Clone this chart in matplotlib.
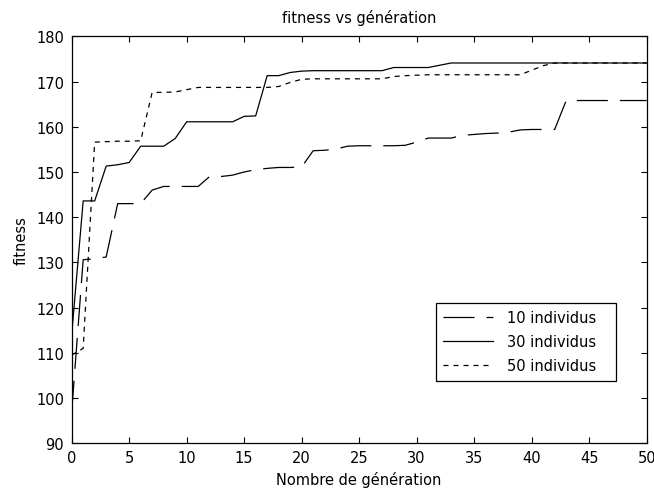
import numpy as np
import matplotlib
matplotlib.use("Agg")
import matplotlib.pyplot as plt

plt.rcParams['font.family'] = ['DejaVu Sans']
plt.rcParams['font.size'] = 10.5

generations = list(range(51))

fitness_10 = [97.0, 130.6, 130.8, 131.2, 143.0, 143.0, 143.0, 146.0, 146.8, 146.8,
              146.8, 146.8, 149.0, 149.0, 149.3, 150.0, 150.5, 150.8, 151.0, 151.0,
              151.1, 154.7, 154.8, 155.1, 155.7, 155.8, 155.8, 155.8, 155.8, 155.9,
              156.6, 157.5, 157.5, 157.5, 158.1, 158.3, 158.5, 158.6, 158.8, 159.3,
              159.4, 159.4, 159.4, 165.8, 165.8, 165.8, 165.8, 165.8, 165.8, 165.8,
              165.8]

fitness_30 = [114.0, 143.6, 143.6, 151.3, 151.6, 152.1, 155.7, 155.7, 155.7, 157.4,
              161.1, 161.1, 161.1, 161.1, 161.1, 162.3, 162.4, 171.3, 171.3, 172.0,
              172.3, 172.4, 172.4, 172.4, 172.4, 172.4, 172.4, 172.4, 173.1, 173.1,
              173.1, 173.1, 173.6, 174.1, 174.1, 174.1, 174.1, 174.1, 174.1, 174.1,
              174.1, 174.1, 174.1, 174.1, 174.1, 174.1, 174.1, 174.1, 174.1, 174.1,
              174.1]

fitness_50 = [109.5, 111.0, 156.6, 156.7, 156.8, 156.8, 156.9, 167.6, 167.6, 167.7,
              168.2, 168.7, 168.7, 168.7, 168.7, 168.7, 168.7, 168.7, 168.9, 169.8,
              170.5, 170.6, 170.6, 170.6, 170.6, 170.6, 170.6, 170.6, 171.1, 171.3,
              171.4, 171.5, 171.5, 171.5, 171.5, 171.5, 171.5, 171.5, 171.5, 171.5,
              172.5, 173.5, 174.1, 174.1, 174.1, 174.1, 174.1, 174.1, 174.1, 174.1,
              174.1]

labels = ['10 individus', '30 individus', '50 individus']
x_ticks = list(range(0, 51, 5))
y_ticks = list(range(90, 181, 10))

fig = plt.figure(figsize=(6.54, 4.89), dpi=100)
ax = fig.add_axes([0.1096, 0.0914, 0.8792, 0.8323])

ax.plot(generations, fitness_10, color='black', lw=0.9, dashes=(24.8, 9.6), label=labels[0])
ax.plot(generations, fitness_30, color='black', lw=0.9, label=labels[1])
ax.plot(generations, fitness_50, color='black', lw=0.9, dashes=(4.0, 4.0), label=labels[2])

ax.set_xlim(0, 50)
ax.set_ylim(90, 180)
ax.set_xticks(x_ticks)
ax.set_yticks(y_ticks)
ax.tick_params(direction='in', length=4.3, width=0.8, top=True, right=True,
               colors='black', labelsize=10.5)
ax.tick_params(axis='x', pad=5)
ax.tick_params(axis='y', pad=5.5)
for sp in ax.spines.values():
    sp.set_linewidth(0.9)
    sp.set_color('black')

ax.set_title('fitness vs génération', fontsize=10.5, pad=10)
ax.set_xlabel('Nombre de génération', fontsize=10.5, labelpad=4.5)
ax.set_ylabel('fitness', fontsize=10.5, labelpad=5)

# legend box spans a fixed region in axes coordinates; content stays left-aligned
leg = ax.legend(loc='upper left', bbox_to_anchor=(0.633, 0.1514, 0.3136, 0.1933),
                mode='expand', borderaxespad=0, fancybox=False, framealpha=1,
                edgecolor='black', handlelength=3.4, handletextpad=1.0,
                labelspacing=0.62, borderpad=0.5, fontsize=10.5)
leg.get_frame().set_linewidth(0.9)

fig.savefig('out.png', dpi=100, facecolor='white')
